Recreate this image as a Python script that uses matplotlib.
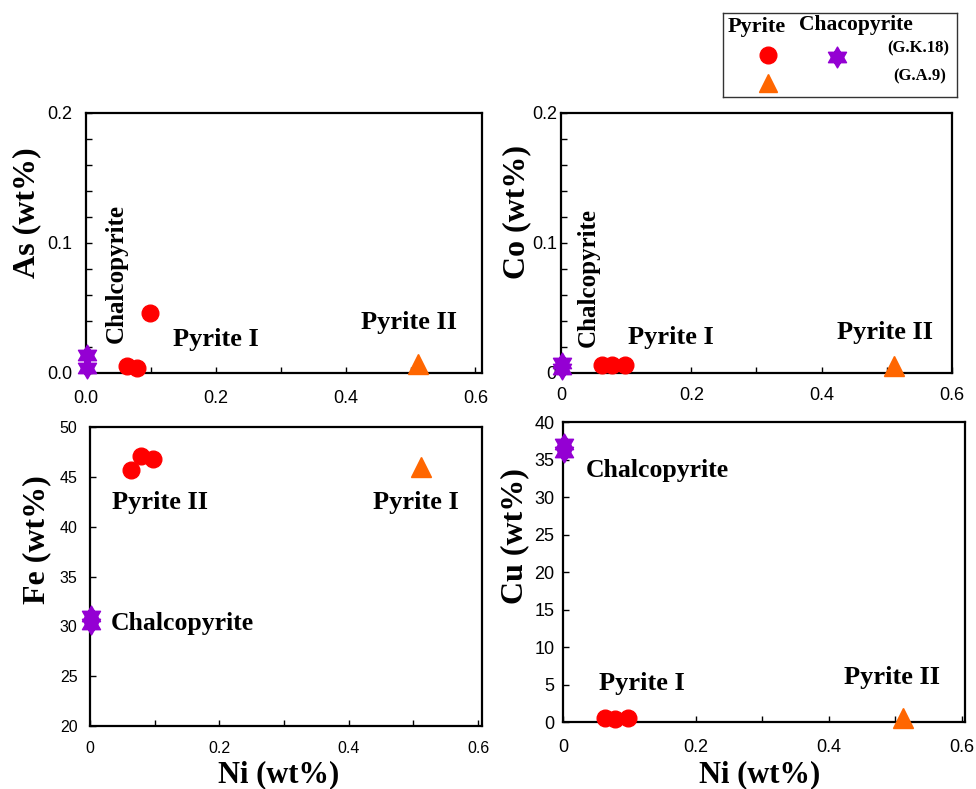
import numpy as np
import matplotlib
matplotlib.use("Agg")
import matplotlib.pyplot as plt
from matplotlib.path import Path

# Ni content (wt%) shared by all four panels
ni_pyrite1 = [0.063, 0.079, 0.098]   # red circles
ni_pyrite2 = [0.511]                 # orange triangle
ni_chalco = [0.002, 0.002]           # purple stars

as_pyrite1 = [0.005, 0.004, 0.046]
as_pyrite2 = [0.007]
as_chalco = [0.014, 0.004]

co_pyrite1 = [0.006, 0.006, 0.006]
co_pyrite2 = [0.005]
co_chalco = [0.008, 0.003]

fe_pyrite1 = [45.7, 47.1, 46.8]
fe_pyrite2 = [46.0]
fe_chalco = [31.0, 30.2]

cu_pyrite1 = [0.6, 0.4, 0.6]
cu_pyrite2 = [0.5]
cu_chalco = [37.1, 36.0]

RED = "#ff0000"
ORANGE = "#ff6600"
PURPLE = "#9400d3"
SERIF = "Liberation Serif"
SANS = "Liberation Sans"

# six pointed star = two overlapping triangles
def hexagram():
    up = [(np.cos(a), np.sin(a)) for a in np.deg2rad([90, 210, 330])]
    dn = [(np.cos(a), np.sin(a)) for a in np.deg2rad([270, 30, 150])]
    verts = up + [up[0]] + dn + [dn[0]]
    codes = [Path.MOVETO, Path.LINETO, Path.LINETO, Path.CLOSEPOLY] * 2
    return Path(verts, codes)

STAR = hexagram()

fig = plt.figure(figsize=(9.76, 7.89), dpi=100)


def points(ax, y1, y2, yc):
    ax.plot(ni_pyrite1, y1, "o", color=RED, ms=12, clip_on=False, zorder=3)
    ax.plot(ni_pyrite2, y2, "^", color=ORANGE, ms=14, clip_on=False, zorder=3)
    ax.plot(ni_chalco, yc, ls="none", marker=STAR, color=PURPLE, ms=15,
            clip_on=False, zorder=3)


def style(ax, xlim, ylim, xt, xl, yt, yl, xminor, yminor, fs, xpad, ypad):
    ax.set_xlim(*xlim)
    ax.set_ylim(*ylim)
    ax.set_xticks(xt)
    ax.set_xticklabels(xl)
    ax.set_yticks(yt)
    ax.set_yticklabels(yl)
    if xminor is not None:
        ax.set_xticks(xminor, minor=True)
    if yminor is not None:
        ax.set_yticks(yminor, minor=True)
    for s in ax.spines.values():
        s.set_linewidth(1.6)
    ax.tick_params(which="both", direction="in", length=4.5, width=1,
                   labelsize=fs)
    ax.tick_params(axis="x", pad=xpad)
    ax.tick_params(axis="y", pad=ypad)
    for lab in ax.get_xticklabels() + ax.get_yticklabels():
        lab.set_family(SANS)


def label(ax, txt, x, y, rot=0, fs=19):
    ax.text(x, y, txt, rotation=rot, ha="center", va="center",
            family=SERIF, weight="bold", fontsize=fs)


def ylab(ax, txt, x, y):
    ax.set_ylabel(txt, family=SERIF, weight="bold", fontsize=23, va="center")
    ax.yaxis.set_label_coords(x, y)


def xlab(ax, txt, x, y):
    ax.set_xlabel(txt, family=SERIF, weight="bold", fontsize=22, va="center")
    ax.xaxis.set_label_coords(x, y)


# As vs Ni
ax1 = fig.add_axes([0.0881, 0.5273, 0.4057, 0.3295])
points(ax1, as_pyrite1, as_pyrite2, as_chalco)
style(ax1, (0, 0.61), (0, 0.2), [0, 0.2, 0.4, 0.6], ["0.0", "0.2", "0.4", "0.6"],
      [0, 0.1, 0.2], ["0.0", "0.1", "0.2"], [0.1, 0.3, 0.5],
      np.arange(0.02, 0.2, 0.02), 13, 12, 10)
label(ax1, "Chalcopyrite", 0.046, 0.0765, rot=90, fs=18)
label(ax1, "Pyrite I", 0.2, 0.0254)
label(ax1, "Pyrite II", 0.498, 0.039)
ylab(ax1, "As (wt%)", -0.149, 0.615)

# Co vs Ni
ax2 = fig.add_axes([0.5748, 0.5273, 0.4006, 0.3295])
points(ax2, co_pyrite1, co_pyrite2, co_chalco)
style(ax2, (0, 0.6), (0, 0.2), [0, 0.2, 0.4, 0.6], ["0", "0.2", "0.4", "0.6"],
      [0, 0.1, 0.2], ["0", "0.1", "0.2"], [0.1, 0.3, 0.5],
      np.arange(0.02, 0.2, 0.02), 13, 10, 3)
label(ax2, "Chalcopyrite", 0.0414, 0.0738, rot=90, fs=18)
label(ax2, "Pyrite I", 0.169, 0.027)
label(ax2, "Pyrite II", 0.497, 0.0315)
ylab(ax2, "Co (wt%)", -0.1125, 0.621)

# Fe vs Ni
ax3 = fig.add_axes([0.0922, 0.0798, 0.4016, 0.3790])
points(ax3, fe_pyrite1, fe_pyrite2, fe_chalco)
style(ax3, (0, 0.606), (20, 50), [0, 0.2, 0.4, 0.6], ["0", "0.2", "0.4", "0.6"],
      np.arange(20, 51, 5), [str(v) for v in range(20, 51, 5)], [0.1, 0.3, 0.5],
      None, 11.5, 11, 9)
label(ax3, "Pyrite II", 0.108, 42.4)
label(ax3, "Pyrite I", 0.504, 42.4)
label(ax3, "Chalcopyrite", 0.143, 30.3, fs=18.5)
ylab(ax3, "Fe (wt%)", -0.135, 0.625)
xlab(ax3, "Ni (wt%)", 0.482, -0.164)

# Cu vs Ni
ax4 = fig.add_axes([0.5768, 0.0849, 0.4119, 0.3802])
points(ax4, cu_pyrite1, cu_pyrite2, cu_chalco)
style(ax4, (0, 0.605), (0, 40), [0, 0.2, 0.4, 0.6], ["0", "0.2", "0.4", "0.6"],
      np.arange(0, 41, 5), [str(v) for v in range(0, 41, 5)], [0.1, 0.3, 0.5],
      None, 13, 12, 6)
label(ax4, "Chalcopyrite", 0.142, 33.5, fs=18.5)
label(ax4, "Pyrite I", 0.119, 5.2)
label(ax4, "Pyrite II", 0.495, 5.9)
ylab(ax4, "Cu (wt%)", -0.119, 0.62)
xlab(ax4, "Ni (wt%)", 0.49, -0.177)

# hand-made legend box
lg = fig.add_axes([0.7408, 0.877, 0.2398, 0.1065])
lg.set_xlim(0, 1)
lg.set_ylim(0, 1)
lg.set_xticks([])
lg.set_yticks([])
for s in lg.spines.values():
    s.set_linewidth(1)
    s.set_color("#333333")
lg.text(0.143, 0.833, "Pyrite", ha="center", va="center", family=SERIF,
        weight="bold", fontsize=16)
lg.text(0.568, 0.857, "Chacopyrite", ha="center", va="center", family=SERIF,
        weight="bold", fontsize=15.5)
lg.text(0.835, 0.583, "(G.K.18)", ha="center", va="center", family=SERIF,
        weight="bold", fontsize=12)
lg.text(0.84, 0.25, "(G.A.9)", ha="center", va="center", family=SERIF,
        weight="bold", fontsize=12)
lg.plot([0.192], [0.5], "o", color=RED, ms=12)
lg.plot([0.192], [0.167], "^", color=ORANGE, ms=13)
lg.plot([0.487], [0.476], ls="none", marker=STAR, color=PURPLE, ms=15)

fig.savefig("out.png", dpi=100)
